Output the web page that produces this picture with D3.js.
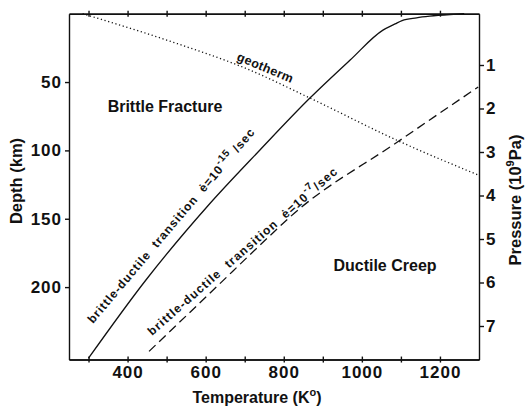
<!DOCTYPE html>
<html><head><meta charset="utf-8">
<script src="https://cdn.jsdelivr.net/npm/d3@7"></script>
<style>
body{margin:0;background:#fff}
svg{display:block;background:#fff}
text{font-family:"Liberation Sans",Arial,Helvetica,sans-serif;fill:#111}
.lbl{white-space:pre}
</style>
</head><body>
<svg id="c" width="525" height="407"></svg>
<script>
// ---- data ----
const tempTicks = [300,400,500,600,700,800,900,1000,1100,1200];
const tempLabels = [400,600,800,1000,1200];
const depthTicks = [50,100,150,200];
const pressureTicks = [1,2,3,4,5,6,7];
// brittle-ductile transition, strain rate 1e-15 /s (solid)
const fastT = [300,447,603,739,867,970,1054,1085,1103,1140,1174,1226,1262];
const fastD = [252,194.8,141.4,99.7,61.7,33.9,12,7.5,5,3,1.8,0.6,0];
// brittle-ductile transition, strain rate 1e-7 /s (dashed)
const slowT = [455,614,772,816,1093,1298];
const slowD = [247,203.6,160.4,148.7,93.5,53.6];
// geotherm (dotted)
const geoT = [285,499,713,867,1093,1298];
const geoD = [0,19.2,41.2,61.7,93,118];

// ---- scales ----
const svg = d3.select("#c");
const L=69, R=479, T0=13.7, B=13.7+253*1.367;
const x = d3.scaleLinear().domain([250,1300]).range([L,R]);
const y = d3.scaleLinear().domain([0,253]).range([T0,B]);
const ypBase = d3.scaleLinear().domain([1,7]).range([65,326]);
const yp = d3.scaleLinear().domain([ypBase.invert(T0), ypBase.invert(B)]).range([T0,B]);

const ink="#111";
function styleAxis(g, fs, ls){
  g.selectAll("path,line").attr("stroke",ink).attr("stroke-width",1.4);
  g.selectAll("text").attr("font-size",fs).attr("font-weight","bold")
   .attr("letter-spacing",ls).attr("fill",ink)
   .style("font-family",'"Liberation Sans",Arial,sans-serif');
}

// bottom axis (crossing ticks)
const gB = svg.append("g").attr("transform",`translate(0,${B})`)
  .call(d3.axisBottom(x).tickValues(tempTicks).tickSizeInner(3).tickSizeOuter(0).tickPadding(3)
        .tickFormat(d=>tempLabels.includes(d)?d:""));
styleAxis(gB,17,1);
const gB2 = svg.append("g").attr("transform",`translate(0,${B})`)
  .call(d3.axisTop(x).tickValues(tempTicks).tickSizeInner(3).tickSizeOuter(0).tickFormat(""));
styleAxis(gB2,17,0);
// top axis (crossing ticks, no labels)
const gT = svg.append("g").attr("transform",`translate(0,${T0})`)
  .call(d3.axisTop(x).tickValues(tempTicks).tickSizeInner(3).tickSizeOuter(0).tickFormat(""));
styleAxis(gT,17,0);
const gT2 = svg.append("g").attr("transform",`translate(0,${T0})`)
  .call(d3.axisBottom(x).tickValues(tempTicks).tickSizeInner(3).tickSizeOuter(0).tickFormat(""));
styleAxis(gT2,17,0);
// left axis (depth)
const gL = svg.append("g").attr("transform",`translate(${L},0)`)
  .call(d3.axisLeft(y).tickValues(depthTicks).tickSizeInner(4).tickSizeOuter(0).tickPadding(3));
styleAxis(gL,17,1);
// right axis (pressure)
const gR = svg.append("g").attr("transform",`translate(${R},0)`)
  .call(d3.axisRight(yp).tickValues(pressureTicks).tickSizeInner(5).tickSizeOuter(0).tickPadding(2));
styleAxis(gR,17,0);

// ---- curves ----
const line = d3.line().x(d=>x(d[0])).y(d=>y(d[1])).curve(d3.curveMonotoneX);
svg.append("path").datum(d3.zip(fastT,fastD)).attr("d",line)
  .attr("fill","none").attr("stroke",ink).attr("stroke-width",1.3);
svg.append("path").datum(d3.zip(slowT,slowD)).attr("d",line)
  .attr("fill","none").attr("stroke",ink).attr("stroke-width",1.3).attr("stroke-dasharray","9,5");
svg.append("path").datum(d3.zip(geoT,geoD)).attr("d",line)
  .attr("fill","none").attr("stroke",ink).attr("stroke-width",1.3).attr("stroke-dasharray","1.2,2.6");

// ---- region labels ----
svg.append("text").attr("x",165).attr("y",112).attr("text-anchor","middle")
  .attr("font-size",16).attr("font-weight","bold").text("Brittle Fracture");
svg.append("text").attr("x",385).attr("y",271).attr("text-anchor","middle")
  .attr("font-size",16).attr("font-weight","bold").text("Ductile Creep");

// ---- curve labels ----
function curveLabel(x0,y0,x1,y1,fs,parts){
  const ang = Math.atan2(y1-y0,x1-x0)*180/Math.PI;
  const len = Math.hypot(x1-x0,y1-y0);
  const t = svg.append("text").attr("class","lbl")
    .attr("transform",`translate(${x0},${y0}) rotate(${ang})`)
    .attr("font-size",fs).attr("font-weight","bold")
    .attr("textLength",len).attr("lengthAdjust","spacing");
  parts.forEach(p=>{
    const s=t.append("tspan").text(p.t);
    if(p.dy) s.attr("dy",p.dy);
    if(p.fs) s.attr("font-size",p.fs);
  });
}
curveLabel(93,324,255,133,12,[
  {t:"brittle-ductile  transition  ė=10"},{t:"-15",dy:-6,fs:10},{t:" /sec",dy:6}]);
curveLabel(152,336,338,173,12,[
  {t:"brittle-ductile  transition  ė=10"},{t:"-7",dy:-6,fs:10},{t:"/sec",dy:6}]);
curveLabel(236,60,291,83,12.5,[{t:"geotherm"}]);

// ---- axis titles ----
const tx = svg.append("text").attr("x",257).attr("y",403).attr("text-anchor","middle")
  .attr("font-size",16).attr("font-weight","bold");
tx.append("tspan").text("Temperature (K");
tx.append("tspan").attr("dy",-7).attr("font-size",11).text("o");
tx.append("tspan").attr("dy",7).text(")");

svg.append("text").attr("transform","translate(22,181) rotate(-90)").attr("text-anchor","middle")
  .attr("font-size",16.5).attr("font-weight","bold").text("Depth (km)");

const tp = svg.append("text").attr("transform","translate(521,200) rotate(-90)").attr("text-anchor","middle")
  .attr("font-size",16.5).attr("font-weight","bold");
tp.append("tspan").text("Pressure (10");
tp.append("tspan").attr("dy",-7).attr("font-size",11).text("9");
tp.append("tspan").attr("dy",7).text("Pa)");
</script>
</body></html>
